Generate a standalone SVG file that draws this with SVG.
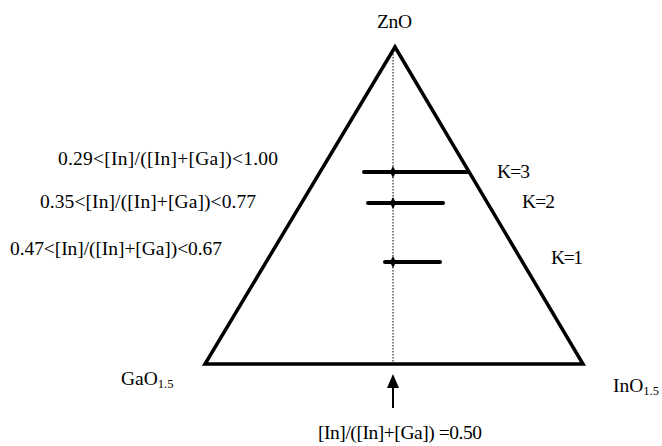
<svg xmlns="http://www.w3.org/2000/svg" width="662" height="446" viewBox="0 0 662 446">
<style>
.t{font-family:'Liberation Serif','Times New Roman',serif;font-size:19.5px;fill:#000}
.bar{stroke:#000;stroke-width:4;stroke-linecap:round}
.sub{font-size:12.5px}
</style>
<rect width="662" height="446" fill="#fff"/>
<g id="triangle">
<polygon points="395,47 205,364 583,364" fill="none" stroke="#000" stroke-width="3.5" stroke-linejoin="miter"/>
</g>
<g id="connectors">
<line x1="393" y1="51" x2="393" y2="363" stroke="#000" stroke-width="1" stroke-dasharray="1.5,1.5"/>
<line x1="393" y1="408" x2="393" y2="384" stroke="#000" stroke-width="2"/>
<polygon points="393,374 399,388 387,388" fill="#000"/>
</g>
<g class="t">
<g id="k3">
<line class="bar" x1="364" y1="172" x2="467" y2="172"/>
<path d="M393,166 L396,172 L393,178 L390,172 Z" fill="#000"/>
<text x="497" y="178" textLength="33">K=3</text>
</g>
<g id="k2">
<line class="bar" x1="368" y1="203" x2="443" y2="203"/>
<path d="M393,197 L396,203 L393,209 L390,203 Z" fill="#000"/>
<text x="522" y="208" textLength="33">K=2</text>
</g>
<g id="k1">
<line class="bar" x1="385" y1="262" x2="440" y2="262"/>
<path d="M393,256 L396,262 L393,268 L390,262 Z" fill="#000"/>
<text x="551" y="264" textLength="32">K=1</text>
</g>
<g id="labels">
<text x="58" y="165" textLength="220">0.29&lt;[In]/([In]+[Ga])&lt;1.00</text>
<text x="40" y="208" textLength="216">0.35&lt;[In]/([In]+[Ga])&lt;0.77</text>
<text x="10" y="255" textLength="212">0.47&lt;[In]/([In]+[Ga])&lt;0.67</text>
</g>
<g id="ZnO"><text x="377" y="28" textLength="35">ZnO</text></g>
<g id="GaO"><text x="121" y="385">GaO<tspan class="sub" dy="3">1.5</tspan></text></g>
<g id="InO"><text x="613" y="392">InO<tspan class="sub" dy="3">1.5</tspan></text></g>
<g id="ratio"><text x="318" y="439" textLength="164">[In]/([In]+[Ga]) =0.50</text></g>
</g>
</svg>
